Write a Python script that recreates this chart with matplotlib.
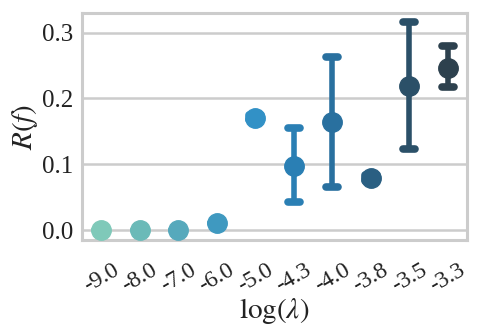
import matplotlib
matplotlib.use("Agg")
import numpy as np
from matplotlib import pyplot as plt
from matplotlib.markers import MarkerStyle

lambdas = ["-9.0", "-8.0", "-7.0", "-6.0", "-5.0", "-4.3", "-4.0", "-3.8", "-3.5", "-3.3"]
r_mean = [0.0, 0.0, 0.0, 0.011, 0.171, 0.098, 0.164, 0.079, 0.219, 0.247]
r_low = [0.0, 0.0, 0.0, 0.011, 0.167, 0.042, 0.065, 0.074, 0.123, 0.218]
r_high = [0.0, 0.0, 0.0, 0.011, 0.175, 0.155, 0.263, 0.084, 0.316, 0.279]
colors = ["#7fc9b9", "#6bbab8", "#56a9bc", "#3f99c0", "#3291c6", "#2a7fb4",
          "#29709f", "#2a5f82", "#2b5068", "#2d414e"]

plt.rcParams["font.family"] = "Liberation Serif"
plt.rcParams["mathtext.fontset"] = "stix"

fig = plt.figure(figsize=(4.79, 3.31), dpi=100)
ax = fig.add_axes([0.171, 0.275, 0.804, 0.686])

x = np.arange(len(lambdas))
cap_marker = MarkerStyle("_", capstyle="round")
for i in range(len(lambdas)):
    err = [[r_mean[i] - r_low[i]], [r_high[i] - r_mean[i]]]
    ax.errorbar(x[i], r_mean[i], yerr=err, fmt="none", ecolor=colors[i],
                elinewidth=4, capsize=0, zorder=3)
    ax.plot([x[i], x[i]], [r_low[i], r_high[i]], linestyle="none",
            marker=cap_marker, markersize=9, markeredgewidth=5.5,
            color=colors[i], zorder=3)
    ax.plot(x[i], r_mean[i], "o", color=colors[i], markersize=14, zorder=4)

ax.set_xlim(-0.5, len(lambdas) - 0.5)
ax.set_ylim(-0.015, 0.330)
ax.set_yticks([0.0, 0.1, 0.2, 0.3])
ax.set_yticklabels(["0.0", "0.1", "0.2", "0.3"])
ax.set_xticks(x)
ax.set_xticklabels(lambdas, rotation=30, ha="center")
ax.tick_params(length=0, colors="#222222")
ax.tick_params(axis="y", labelsize=18, pad=6)
ax.tick_params(axis="x", labelsize=17, pad=14)
ax.yaxis.grid(True, color="#cccccc", linewidth=1.8, zorder=0)
ax.set_axisbelow(True)
for s in ax.spines.values():
    s.set_color("#cccccc")
    s.set_linewidth(2.2)

ax.set_xlabel(r"$\log(\lambda)$", fontsize=21, color="#222222", labelpad=0)
ax.set_ylabel(r"$R(f)$", fontsize=21, color="#222222", labelpad=2)

fig.savefig("out.png", dpi=100)
